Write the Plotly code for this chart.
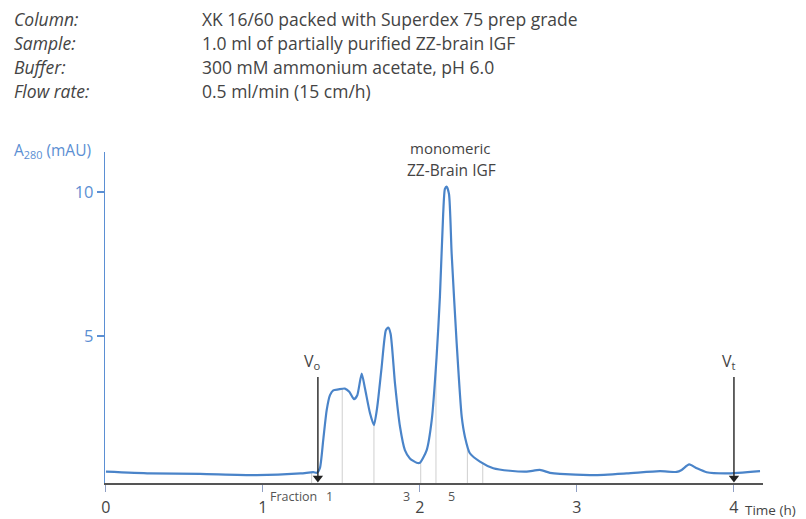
import numpy as np
import plotly.graph_objects as go

# Chromatogram trace (time in h, absorbance in mAU)
time_h = [0.0, 0.28, 0.60, 0.96, 1.24, 1.32, 1.344, 1.363, 1.384, 1.406, 1.427, 1.448,
          1.480, 1.522, 1.550, 1.580, 1.601, 1.629, 1.650, 1.682, 1.707, 1.728, 1.756,
          1.783, 1.798, 1.813, 1.841, 1.873, 1.904, 1.936, 1.979, 2.0, 2.043, 2.075,
          2.106, 2.127, 2.148, 2.159, 2.170, 2.185, 2.202, 2.234, 2.266, 2.287, 2.318,
          2.382, 2.467, 2.573, 2.68, 2.764, 2.828, 2.892, 3.104, 3.317, 3.529, 3.635,
          3.667, 3.715, 3.762, 3.826, 3.953, 4.166]
a280 = [0.28, 0.22, 0.20, 0.16, 0.22, 0.26, 0.24, 0.41, 1.38, 2.42, 2.94, 3.11,
        3.14, 3.17, 3.06, 2.80, 2.94, 3.69, 3.17, 2.31, 1.90, 2.53, 3.92,
        5.20, 5.29, 5.08, 3.35, 1.84, 1.03, 0.74, 0.59, 0.59, 1.03, 2.07,
        4.27, 6.35, 9.25, 10.12, 10.20, 9.94, 7.86, 4.74, 2.19, 1.48, 0.92,
        0.63, 0.40, 0.31, 0.28, 0.34, 0.24, 0.20, 0.16, 0.22, 0.30, 0.27,
        0.34, 0.53, 0.40, 0.26, 0.22, 0.30]

fraction_bounds = [1.31, 1.505, 1.707, 2.005, 2.102, 2.302, 2.40]
fraction_labels = ["1", "3", "5"]
fraction_label_x = [1.425, 1.915, 2.203]

x_ticks = [0, 1, 2, 3, 4]
y_ticks = [5, 10]
v0_time = 1.35
vt_time = 4.0

header_keys = ["Column:", "Sample:", "Buffer:", "Flow rate:"]
header_vals = ["XK 16/60 packed with Superdex 75 prep grade",
               "1.0 ml of partially purified ZZ-brain IGF",
               "300 mM ammonium acetate, pH 6.0",
               "0.5 ml/min (15 cm/h)"]

FONT = "Open Sans"
BLUE = "#4a84c9"
AXBLUE = "#5b8fd3"
GREY = "#444444"

YMIN, YMAX = -0.115, 11.4
XMIN, XMAX = -0.006, 4.185

# page has an 8px body margin; figure sized to fit the window
OFF = 8
W, H = 806 - OFF, 519 - OFF
ML, MR, MT, MB = 105 - OFF, 43, 152 - OFF, 36
pw, ph = W - ML - MR, H - MT - MB


def px(x):
    return (x - OFF - ML) / pw


def py(y):
    return 1 - (y - OFF - MT) / ph


def label(x, y, text, size, color=GREY, xref="paper", xanchor="center"):
    fig.add_annotation(x=x, y=y, xref=xref, yref="paper", showarrow=False,
                       xanchor=xanchor, yanchor="middle", text=text,
                       font=dict(family=FONT, size=size, color=color))


fig = go.Figure()

# fraction lines from axis up to curve
for fb in fraction_bounds:
    top = float(np.interp(fb, time_h, a280))
    fig.add_shape(type="line", x0=fb, x1=fb, y0=YMIN, y1=top, xref="x", yref="y",
                  line=dict(color="#cfcfcf", width=1), layer="below")

fig.add_trace(go.Scatter(x=time_h, y=a280, mode="lines",
                         line=dict(color=BLUE, width=2.2, shape="spline", smoothing=0.6),
                         hoverinfo="skip", showlegend=False))

# V0 and Vt arrows
arrow_top = 3.57
for t, sub in [(v0_time, "o"), (vt_time, "t")]:
    fig.add_shape(type="line", x0=t, x1=t, y0=arrow_top, y1=0.0, xref="x", yref="y",
                  line=dict(color="#222222", width=1.4))
    fig.add_annotation(x=t, y=py(361), xref="x", yref="paper", showarrow=False,
                       xanchor="center", yanchor="middle", xshift=-5,
                       text=f"V<sub>{sub}</sub>", font=dict(family=FONT, size=16, color=GREY))
fig.add_trace(go.Scatter(x=[v0_time, vt_time], y=[0.06, 0.06], mode="markers",
                         marker=dict(symbol="triangle-down", size=9, color="#222222"),
                         hoverinfo="skip", showlegend=False))

# Peak label
label(px(450), py(148), "monomeric", 15)
label(px(451), py(170), "ZZ-Brain IGF", 15.5)

# Fraction labels
label(px(293), py(496), "Fraction", 12.5, color="#555555")
for lab, lx in zip(fraction_labels, fraction_label_x):
    label(lx, py(496), lab, 12.5, color="#555555", xref="x")

# Axis titles
label(px(52), py(151), "A<sub>280</sub> (mAU)", 15.5, color=AXBLUE)
label(px(798), py(510), "Time (h)", 13.5, xanchor="right")

# Header
for i, (k, v) in enumerate(zip(header_keys, header_vals)):
    yy = 18.5 + 24.3 * i
    label(px(12), py(yy), f"<i>{k}</i>", 17.5, xanchor="left")
    label(px(200), py(yy), v, 17.5, xanchor="left")

fig.update_layout(
    width=W, height=H, margin=dict(l=ML, r=MR, t=MT, b=MB, autoexpand=False),
    paper_bgcolor="white", plot_bgcolor="white",
    xaxis=dict(range=[XMIN, XMAX], tickvals=x_ticks, ticktext=[str(v) for v in x_ticks],
               showgrid=False, zeroline=False, showline=True, linecolor="#555555", linewidth=1.5,
               ticks="outside", ticklen=7, tickcolor="#8f9fc4", tickwidth=1,
               ticklabelstandoff=2, automargin=False,
               tickfont=dict(family=FONT, size=16, color=GREY)),
    yaxis=dict(range=[YMIN, YMAX], tickvals=y_ticks, showgrid=False, zeroline=False,
               showline=True, linecolor=AXBLUE, linewidth=1.3, automargin=False,
               ticks="outside", ticklen=7, tickcolor=AXBLUE, tickwidth=1.5,
               tickfont=dict(family=FONT, size=16.5, color=AXBLUE)),
)

fig.write_html("out.html")
